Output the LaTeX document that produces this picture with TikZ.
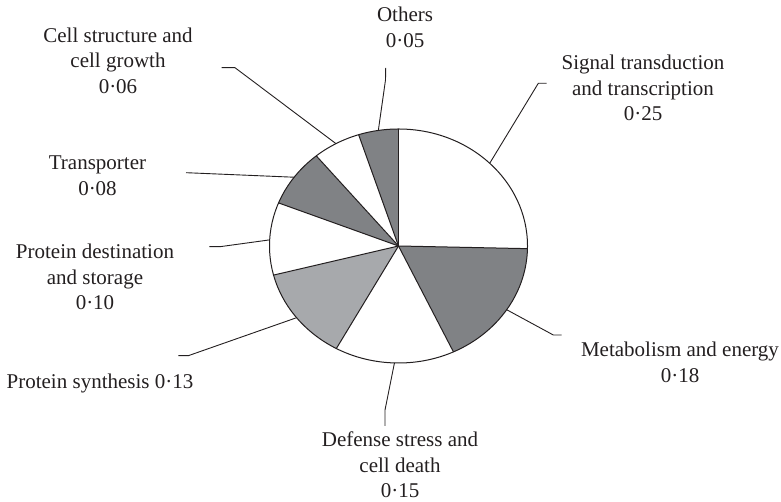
\documentclass[tikz,border=0pt]{standalone}
\usepackage{fontspec}
\setmainfont{Liberation Serif}
\definecolor{ink}{HTML}{231F20}
\definecolor{darkslice}{HTML}{808285}
\definecolor{lightslice}{HTML}{A7A9AC}
\tikzset{
  slice/.style={draw=ink, line width=1pt, line join=round},
  leader/.style={draw=ink, line width=0.9pt},
  lbl/.style={text=ink, align=center, inner sep=0pt, font=\fontsize{21}{25.5}\selectfont}
}
\begin{document}
\begin{tikzpicture}[x=1pt,y=1pt]
\useasboundingbox (0,0) rectangle (781,502);
\coordinate (c) at (398.5,256);
% slices
\def\rx{129}\def\ry{117}
\fill[white] (c) -- ([shift={(c)}]-1.3:\rx pt and \ry pt) arc[start angle=-1.3, end angle=90, x radius=\rx, y radius=\ry] -- cycle;
\fill[darkslice] (c) -- ([shift={(c)}]-64.8:\rx pt and \ry pt) arc[start angle=-64.8, end angle=-1.3, x radius=\rx, y radius=\ry] -- cycle;
\fill[white] (c) -- ([shift={(c)}]-118.8:\rx pt and \ry pt) arc[start angle=-118.8, end angle=-64.8, x radius=\rx, y radius=\ry] -- cycle;
\fill[lightslice] (c) -- ([shift={(c)}]-165.6:\rx pt and \ry pt) arc[start angle=-165.6, end angle=-118.8, x radius=\rx, y radius=\ry] -- cycle;
\fill[white] (c) -- ([shift={(c)}]-201.6:\rx pt and \ry pt) arc[start angle=-201.6, end angle=-165.6, x radius=\rx, y radius=\ry] -- cycle;
\fill[darkslice] (c) -- ([shift={(c)}]-230.4:\rx pt and \ry pt) arc[start angle=-230.4, end angle=-201.6, x radius=\rx, y radius=\ry] -- cycle;
\fill[white] (c) -- ([shift={(c)}]-252:\rx pt and \ry pt) arc[start angle=-252, end angle=-230.4, x radius=\rx, y radius=\ry] -- cycle;
\fill[darkslice] (c) -- ([shift={(c)}]-270:\rx pt and \ry pt) arc[start angle=-270, end angle=-252, x radius=\rx, y radius=\ry] -- cycle;
% radii
\foreach \a in {90,-1.3,-64.8,-118.8,-165.6,-201.6,-230.4,-252}
  \draw[slice] (c) -- ([shift={(c)}]\a:\rx pt and \ry pt);
\draw[slice] (c) ellipse[x radius=\rx, y radius=\ry];
% leader coordinates on the rim
\coordinate (pOth) at ([shift={(c)}]99:\rx pt and \ry pt);
\coordinate (pCell) at ([shift={(c)}]119:\rx pt and \ry pt);
\coordinate (pTr) at ([shift={(c)}]144:\rx pt and \ry pt);
\coordinate (pPD) at ([shift={(c)}]177:\rx pt and \ry pt);
\coordinate (pPS) at ([shift={(c)}]-142.2:\rx pt and \ry pt);
\coordinate (pDef) at ([shift={(c)}]-91.8:\rx pt and \ry pt);
\coordinate (pMet) at ([shift={(c)}]-33:\rx pt and \ry pt);
\coordinate (pSig) at ([shift={(c)}]45:\rx pt and \ry pt);
% leader free ends
\coordinate (eOth) at (385.7,434);
\coordinate (bOth) at (385.5,422);
\coordinate (eCell) at (221.7,434.3);
\coordinate (bCell) at (235,434.3);
\coordinate (eTr) at (186,329.3);
\coordinate (ePD) at (209.3,255.3);
\coordinate (bPD) at (220,255.3);
\coordinate (ePS) at (178.3,146.3);
\coordinate (bPS) at (188.3,146.3);
\coordinate (eDef) at (385,76);
\coordinate (bDef) at (385,92);
\coordinate (eMet) at (561.7,167);
\coordinate (bMet) at (553.3,167);
\coordinate (eSig) at (546.7,418.7);
\coordinate (bSig) at (538.3,418.7);
\draw[leader] (pOth) -- (bOth) -- (eOth);
\draw[leader] (pCell) -- (bCell) -- (eCell);
\draw[leader] (pTr) -- (eTr);
\draw[leader] (pPD) -- (bPD) -- (ePD);
\draw[leader] (pPS) -- (bPS) -- (ePS);
\draw[leader] (pDef) -- (bDef) -- (eDef);
\draw[leader] (pMet) -- (bMet) -- (eMet);
\draw[leader] (pSig) -- (bSig) -- (eSig);
% labels
\node[lbl] (lOth) at (405,474.5) {Others\\0·05};
\node[lbl] (lCell) at (118,441.5) {Cell structure and\\cell growth\\0·06};
\node[lbl] (lSig) at (643,414) {Signal transduction\\and transcription\\0·25};
\node[lbl] (lTr) at (97.5,326.5) {Transporter\\0·08};
\node[lbl] (lPD) at (95,225) {Protein destination\\and storage\\0·10};
\node[lbl] (lPS) at (100,119) {Protein synthesis 0·13};
\node[lbl] (lDef) at (400,37) {Defense stress and\\cell death\\0·15};
\node[lbl] (lMet) at (680,139.5) {Metabolism and energy\\0·18};
\end{tikzpicture}
\end{document}
